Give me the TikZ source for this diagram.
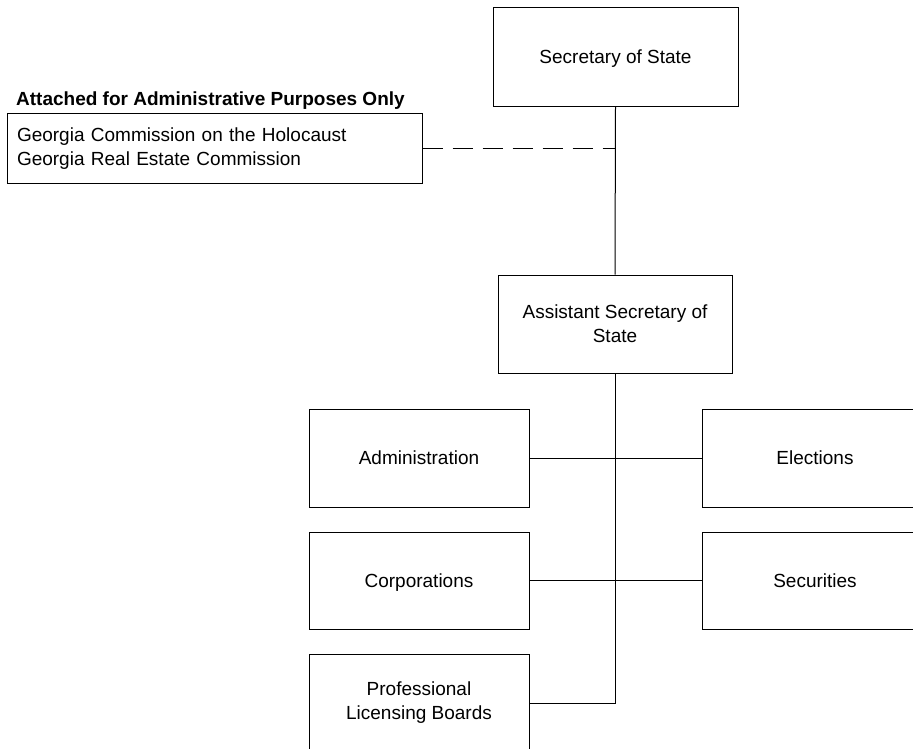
\documentclass[tikz,border=0pt]{standalone}
\usepackage{fontspec}
\setmainfont{Liberation Sans}
\begin{document}
\begin{tikzpicture}[x=1pt,y=-1pt,
  box/.style={draw=black,line width=1pt,rectangle,inner sep=0pt,align=center,
    font=\fontsize{19}{24}\selectfont},
  onebox/.style={box,text height=13.6pt,text depth=0pt},
  link/.style={draw=black,line width=1pt},
  dashlink/.style={draw=black,line width=1pt,dash pattern=on 20pt off 10pt}]
\clip (0,0) rectangle (913,749);
\fill[white] (0,0) rectangle (913,749);
\node[onebox,minimum width=245pt,minimum height=99pt] (sec) at (615.5,57) {Secretary of State};
\node[anchor=base west,inner sep=0pt,font=\fontsize{19}{24}\selectfont\bfseries] (lbl) at (16,106) {Attached for Administrative Purposes Only};
\node[box,minimum width=415pt,minimum height=69pt,text width=395pt,align=left] (att) at (214.5,148.5) {Georgia Commission on the Holocaust\\Georgia Real Estate Commission};
\node[box,minimum width=234pt,minimum height=98pt] (asst) at (615,324) {Assistant Secretary of\\State};
\node[onebox,minimum width=220pt,minimum height=98pt] (admin) at (419,458) {Administration};
\node[onebox,minimum width=226pt,minimum height=98pt] (elect) at (815,458) {Elections};
\node[onebox,minimum width=220pt,minimum height=97pt] (corp) at (419,580.5) {Corporations};
\node[onebox,minimum width=226pt,minimum height=97pt] (secur) at (815,580.5) {Securities};
\node[box,minimum width=220pt,minimum height=98pt] (prof) at (419,703) {Professional\\Licensing Boards};
\draw[link] (sec.south) -- (asst.north);
\draw[dashlink] (att.east) -- (att.east -| sec.south);
\draw[link] (asst.south) -- (asst.south |- prof.east) -- (prof.east);
\draw[link] (admin.east) -- (elect.west);
\draw[link] (corp.east) -- (secur.west);
\end{tikzpicture}
\end{document}
